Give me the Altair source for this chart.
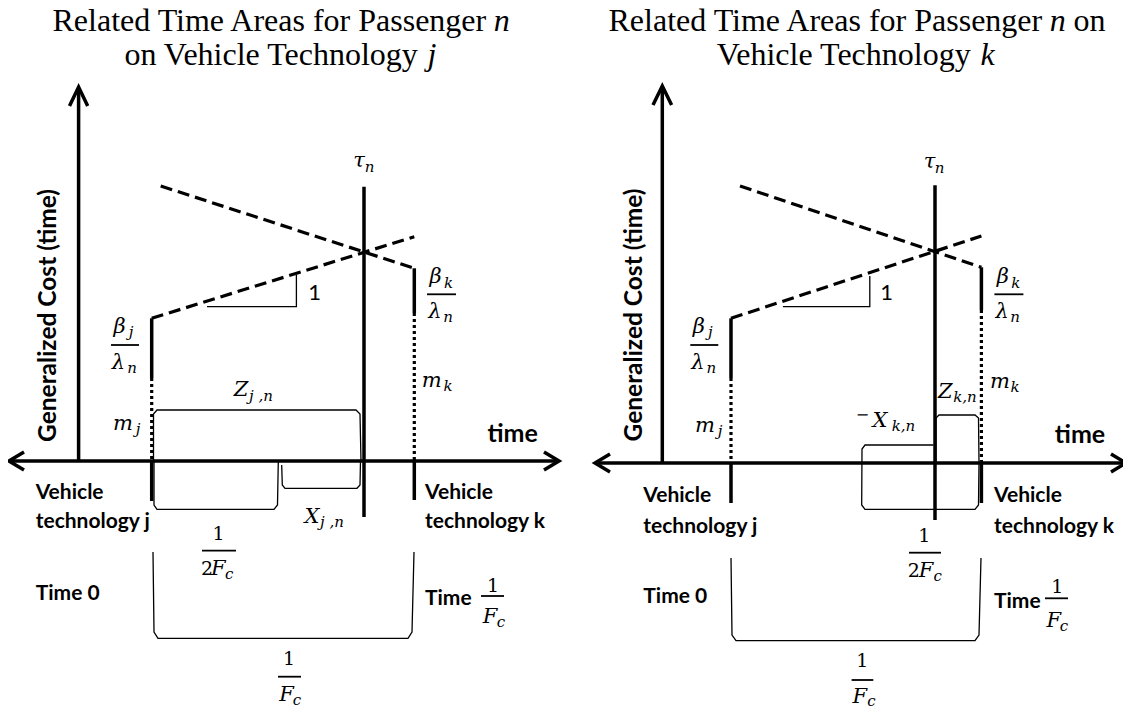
import altair as alt
import pandas as pd

# ---------------- diagram geometry (diagram coordinates) ----------------
# thick solid strokes: axes, vehicle lines, tau line, arrow heads
solid_lines = {
    "yaxis_L": [(78.6, 461), (78.6, 88)],
    "xaxis_L": [(10, 461), (558, 461)],
    "j_top_L": [(151.7, 318.3), (151.7, 378)],
    "j_bot_L": [(151.7, 461), (151.7, 501)],
    "k_top_L": [(414.3, 268.3), (414.3, 313)],
    "k_bot_L": [(414.3, 461), (414.3, 500)],
    "tau_L": [(364, 186.7), (364, 517)],
    "arr_y_L": [(69.5, 106), (78.6, 87), (87.7, 106)],
    "arr_xl_L": [(24, 452), (9, 461), (24, 470)],
    "arr_xr_L": [(544, 452), (559, 461), (544, 470)],
    "yaxis_R": [(662.3, 463), (662.3, 87)],
    "xaxis_R": [(596, 463), (1125, 463)],
    "j_top_R": [(731, 318.3), (731, 378)],
    "j_bot_R": [(731, 463), (731, 503)],
    "k_top_R": [(981.4, 267.3), (981.4, 310)],
    "k_bot_R": [(981.4, 463), (981.4, 503)],
    "tau_R": [(935, 185.3), (935, 520)],
    "arr_y_R": [(653, 105), (662.3, 86), (671.6, 105)],
    "arr_xl_R": [(610, 454), (595, 463), (610, 472)],
    "arr_xr_R": [(1111, 454), (1126, 463), (1111, 472)],
}
dotted_lines = {
    "j_dot_L": [(151.7, 378), (151.7, 461)],
    "k_dot_L": [(414.3, 313), (414.3, 461)],
    "j_dot_R": [(731, 378), (731, 463)],
    "k_dot_R": [(981.4, 310), (981.4, 463)],
}
dashed_lines = {
    "dec_L": [(160.7, 186), (414.3, 268.3)],
    "inc_L": [(151.7, 318.3), (414.3, 236.7)],
    "dec_R": [(740, 186), (981.4, 267.3)],
    "inc_R": [(731, 318.3), (981.4, 236)],
}
thin_lines = {
    "slope_L": [(207, 306.7), (296.4, 306.7), (296.4, 275)],
    "Z_L": [(153.5, 461), (153.5, 414), (157, 410), (356, 410), (360, 414), (361, 461)],
    "half_L": [(154, 461), (154, 505), (157, 509.3), (274, 509.3), (277.5, 505), (278.3, 461)],
    "X_L": [(281.7, 465), (282.3, 485), (285, 488.3), (357, 488.3), (360, 485), (360.5, 461)],
    "full_L": [(153, 552), (154, 632), (158, 638.3), (408, 638.3), (412, 632), (414, 552)],
    "slope_R": [(782.9, 306.7), (869.8, 306.7), (869.8, 276)],
    "Z_R": [(936, 463), (936, 418), (939, 415), (975, 415), (978.5, 418), (979, 463)],
    "X_R": [(933.5, 445), (865, 445), (862, 449), (861.7, 505), (865, 509.3), (975, 509.3), (978.5, 505), (979, 463)],
    "full_R": [(731, 558), (732, 635), (736, 640.7), (975, 640.7), (979, 635), (981, 558)],
}
fraction_bars = {
    "bj_L": [(111, 345), (139, 345)],
    "bk_L": [(427, 294.3), (456, 294.3)],
    "h_L": [(202, 550.7), (236, 550.7)],
    "f_L": [(278, 676.7), (301, 676.7)],
    "t_L": [(481, 596), (504, 596)],
    "bj_R": [(690.3, 345), (718.3, 345)],
    "bk_R": [(994.4, 294.3), (1023.4, 294.3)],
    "h_R": [(909, 552.7), (941, 552.7)],
    "f_R": [(851.6, 680), (873.3, 680)],
    "t_R": [(1045, 598.3), (1068, 598.3)],
}

# ---------------- text ----------------
title_plain = [(52.5, 30.5, "Related Time Areas for Passenger"), (124.4, 65, "on Vehicle Technology"),
               (608.5, 30.5, "Related Time Areas for Passenger"), (716.7, 65, "Vehicle Technology"),
               (1073.5, 30.5, "on")]
title_italic = [(493.7, 30.5, "n"), (427.5, 65, "j"), (1049.7, 30.5, "n"), (980.5, 65, "k")]
bold_labels = [(35.7, 499, "Vehicle"), (35.7, 528, "technology j"), (35.7, 600, "Time 0"),
               (425, 499, "Vehicle"), (425, 528, "technology k"), (425, 605, "Time"),
               (643.3, 501.7, "Vehicle"), (643.3, 533, "technology j"), (643.3, 603, "Time 0"),
               (994, 501.7, "Vehicle"), (994, 533, "technology k"), (994, 608, "Time")]
axis_word = [(487.5, 441.7, "time"), (1054.8, 443, "time")]
y_titles = [(49, 315.5, "Generalized Cost (time)"), (635, 315, "Generalized Cost (time)")]
slope_one = [(314.6, 300, "1"), (886.6, 300, "1")]
math_main = [(359, 167, "τ"), (929.6, 168, "τ"),
             (119.5, 333, "β"), (698.8, 333, "β"), (118.5, 369, "λ"), (697.8, 369, "λ"),
             (123, 430, "m"), (705, 432, "m"),
             (435.5, 283, "β"), (1002.9, 283, "β"), (435, 318, "λ"), (1002.1, 318, "λ"),
             (431.7, 387, "m"), (1000, 388, "m"),
             (241, 396, "Z"), (945.3, 398, "Z"), (312, 523, "X"), (880, 426.7, "X"),
             (218.3, 575, "F"), (926, 576.7, "F"), (286.6, 701, "F"), (859.8, 703, "F"),
             (490, 623, "F"), (1053.8, 626.7, "F")]
math_sub = [(369.5, 172, "n"), (939.5, 173, "n"),
            (131, 337, "j"), (710.3, 337, "j"), (132, 373, "n"), (711.3, 373, "n"),
            (138, 434, "j"), (720, 436, "j"),
            (448.5, 288, "k"), (1015.9, 288, "k"), (448, 322, "n"), (1015, 322, "n"),
            (448, 391, "k"), (1015, 392, "k"),
            (261, 401, "j ,n"), (965, 402, "k,n"), (332, 527, "j ,n"), (903.5, 431, "k,n"),
            (229.3, 579, "c"), (937.6, 581, "c"), (297, 705, "c"), (871.5, 706, "c"),
            (501, 627, "c"), (1064, 631, "c")]
math_num = [(218.5, 540, "1"), (289, 665, "1"), (493, 591.7, "1"),
            (924.2, 541.7, "1"), (862.3, 666.7, "1"), (1057.4, 593, "1"),
            (207, 575, "2"), (913.8, 576.7, "2")]
math_minus = [(862.5, 420, "−")]

# ---------------- chart ----------------
X = alt.X("x:Q", scale=alt.Scale(domain=[8, 1123], nice=False, zero=False), axis=None)
Y = alt.Y("y:Q", scale=alt.Scale(domain=[8, 707], nice=False, zero=False, reverse=True), axis=None)


def lines_df(d):
    rows = []
    for name, pts in d.items():
        for i, (x, y) in enumerate(pts):
            rows.append({"id": name, "o": i, "x": x, "y": y})
    return pd.DataFrame(rows)


def line_layer(d, width, dash=None):
    kw = dict(color="black", strokeWidth=width, strokeCap="butt", strokeJoin="miter")
    if dash:
        kw["strokeDash"] = dash
    return alt.Chart(lines_df(d)).mark_line(**kw).encode(
        x=X, y=Y, detail="id:N", order="o:Q")


def text_layer(items, **kw):
    df = pd.DataFrame(items, columns=["x", "y", "t"])
    return alt.Chart(df).mark_text(color="black", **kw).encode(x=X, y=Y, text="t:N")


layers = [
    line_layer(thin_lines, 1.3),
    line_layer(fraction_bars, 1.8),
    line_layer(dotted_lines, 3.2, [3, 3]),
    line_layer(dashed_lines, 3.2, [12, 6]),
    line_layer(solid_lines, 3.5),
    text_layer(title_plain, font="Liberation Serif", fontSize=32, align="left", baseline="alphabetic"),
    text_layer(title_italic, font="Liberation Serif", fontSize=32, fontStyle="italic",
               align="left", baseline="alphabetic"),
    text_layer(bold_labels, font="Lato", fontSize=21, fontWeight="bold", align="left",
               baseline="alphabetic"),
    text_layer(axis_word, font="Lato", fontSize=25, fontWeight="bold", align="left",
               baseline="alphabetic"),
    text_layer(y_titles, font="Lato", fontSize=24.5, fontWeight="bold", align="center",
               baseline="middle", angle=270),
    text_layer(slope_one, font="Lato", fontSize=22, align="center", baseline="alphabetic"),
    text_layer(math_main, font="DejaVu Serif", fontSize=21, fontStyle="italic", align="center",
               baseline="alphabetic"),
    text_layer(math_sub, font="DejaVu Serif", fontSize=15, fontStyle="italic", align="center",
               baseline="alphabetic"),
    text_layer(math_num, font="DejaVu Serif", fontSize=19, align="center", baseline="alphabetic"),
    text_layer(math_minus, font="DejaVu Serif", fontSize=16, align="center", baseline="alphabetic"),
]

chart = alt.layer(*layers).properties(
    width=1115, height=699, padding=0, autosize="none", background="white"
).configure_view(stroke=None)

chart.save("out.html", embed_options={"renderer": "svg", "actions": False})
